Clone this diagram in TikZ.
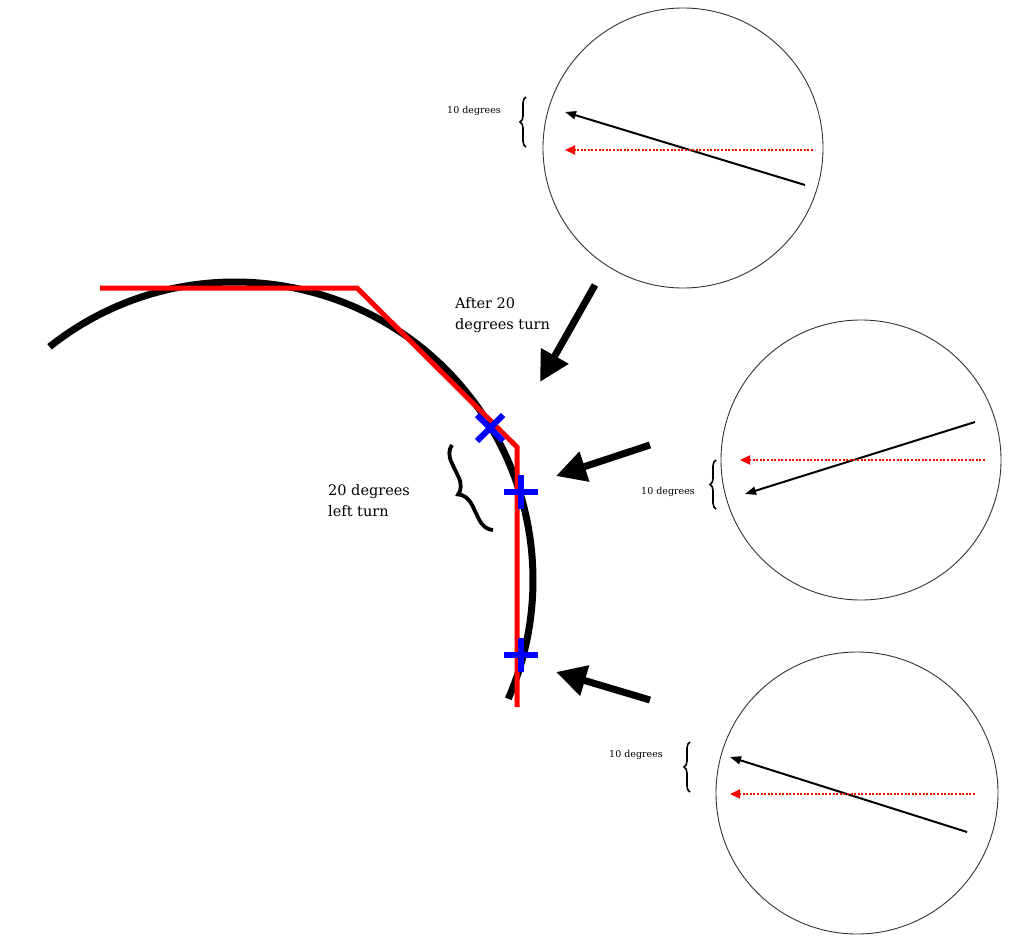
\documentclass[tikz,border=0pt]{standalone}
\usepackage{fontspec}
\setmainfont{DejaVu Serif}
\usetikzlibrary{arrows.meta,decorations.pathreplacing}
\begin{document}
\begin{tikzpicture}[x=1pt,y=-1pt,
  lens/.style={draw=black!80,line width=0.9pt},
  fineblack/.style={draw=black,line width=2pt,-{Triangle[length=11pt,width=8pt]}},
  finered/.style={draw=red,line width=2pt,dash pattern=on 2pt off 1.6pt,-{Triangle[length=10pt,width=9pt]}},
  bigarrow/.style={draw=black,line width=7pt,-{Triangle[length=30pt,width=30pt]}},
  smalllabel/.style={font=\fontsize{9.5}{10}\selectfont,inner sep=0pt},
  biglabel/.style={font=\fontsize{14.5}{21}\selectfont,align=left,inner sep=0pt,anchor=north west},
  smallbrace/.style={draw=black,line width=1.6pt,decorate,decoration={brace,amplitude=6pt}},
  bluemark/.style={draw=blue,line width=6pt}
]
\useasboundingbox (0,0) rectangle (1030,950);

% main curve
\draw[line width=7pt,black] (235,580) ++(-128.5:298) arc[start angle=-128.5,end angle=23.5,radius=298];
% red polyline
\draw[red,line width=5pt,line join=miter] (100,288) -- (357,288) -- (517,447) -- (517,707);

% blue marks
\coordinate (mx) at (490,428);
\coordinate (p1) at (521,492);
\coordinate (p2) at (521,655);
\draw[bluemark] ([shift={(-13,-13)}]mx) -- ([shift={(13,13)}]mx);
\draw[bluemark] ([shift={(-13,13)}]mx) -- ([shift={(13,-13)}]mx);
\draw[bluemark] ([shift={(-17,0)}]p1) -- ([shift={(17,0)}]p1);
\draw[bluemark] ([shift={(0,-17)}]p1) -- ([shift={(0,17)}]p1);
\draw[bluemark] ([shift={(-17,0)}]p2) -- ([shift={(17,0)}]p2);
\draw[bluemark] ([shift={(0,-17)}]p2) -- ([shift={(0,17)}]p2);

% big brace and labels
\draw[black,line width=3.8pt,decorate,decoration={brace,amplitude=16pt}] (493,530) -- (452,445);
\node[biglabel] (lt) at (328,484) {20 degrees\\left turn};
\node[biglabel] (at) at (455,297) {After 20\\degrees turn};

% top circle
\node[lens,circle,minimum size=280pt,inner sep=0pt] (c1) at (683,148) {};
\coordinate (a1s) at (805,185); \coordinate (a1e) at (565,112);
\coordinate (r1s) at (813,150); \coordinate (r1e) at (565,150);
\draw[fineblack] (a1s) -- (a1e);
\draw[finered] (r1s) -- (r1e);
\draw[smallbrace] (526,147) -- (526,97);
\node[smalllabel] (l1) at (474,111) {10 degrees};

% middle circle
\node[lens,circle,minimum size=280pt,inner sep=0pt] (c2) at (861,460) {};
\coordinate (a2s) at (975,422); \coordinate (a2e) at (745,494);
\coordinate (r2s) at (985,460); \coordinate (r2e) at (740,460);
\draw[fineblack] (a2s) -- (a2e);
\draw[finered] (r2s) -- (r2e);
\draw[smallbrace] (716,509) -- (716,460);
\node[smalllabel] (l2) at (668,492) {10 degrees};

% bottom circle
\node[lens,circle,minimum size=282pt,inner sep=0pt] (c3) at (857,793) {};
\coordinate (a3s) at (967,832); \coordinate (a3e) at (730,757);
\coordinate (r3s) at (975,794); \coordinate (r3e) at (730,794);
\draw[fineblack] (a3s) -- (a3e);
\draw[finered] (r3s) -- (r3e);
\draw[smallbrace] (690,792) -- (690,742);
\node[smalllabel] (l3) at (636,755) {10 degrees};

% big pointer arrows
\coordinate (b1s) at (595,285); \coordinate (b1e) at (540,382);
\coordinate (b2s) at (650,445); \coordinate (b2e) at (556,476);
\coordinate (b3s) at (650,700); \coordinate (b3e) at (556,672);
\draw[bigarrow] (b1s) -- (b1e);
\draw[bigarrow] (b2s) -- (b2e);
\draw[bigarrow] (b3s) -- (b3e);
\end{tikzpicture}
\end{document}
